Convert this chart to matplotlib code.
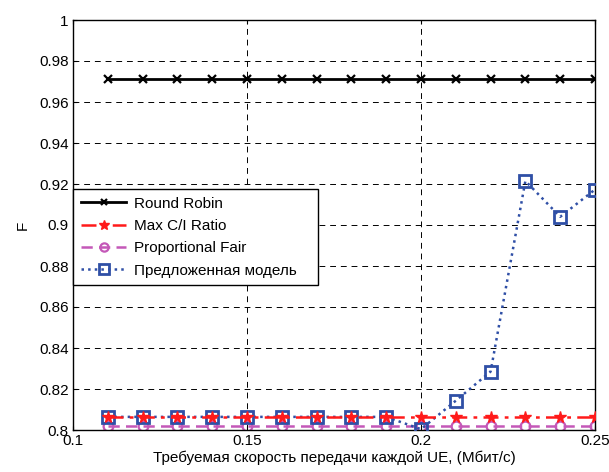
import matplotlib
matplotlib.use("Agg")
import matplotlib.pyplot as plt

plt.rcParams['font.family'] = ['Liberation Sans', 'DejaVu Sans']

# Daten
rate = [0.11, 0.12, 0.13, 0.14, 0.15, 0.16, 0.17, 0.18, 0.19, 0.20,
        0.21, 0.22, 0.23, 0.24, 0.25]
round_robin = [0.9712] * 15
max_ci = [0.8064] * 15
prop_fair = [0.8021] * 15
proposed = [0.8064, 0.8064, 0.8064, 0.8064, 0.8064, 0.8064, 0.8064, 0.8064,
            0.8064, 0.8004, 0.8143, 0.8285, 0.9215, 0.9040, 0.9173]

labels = ['Round Robin', 'Max C/I Ratio', 'Proportional Fair',
          'Предложенная модель']

x_ticks = [0.1, 0.15, 0.2, 0.25]
x_ticklabels = ['0.1', '0.15', '0.2', '0.25']
y_ticks = [0.8, 0.82, 0.84, 0.86, 0.88, 0.9, 0.92, 0.94, 0.96, 0.98, 1.0]
y_ticklabels = ['0.8', '0.82', '0.84', '0.86', '0.88', '0.9', '0.92',
                '0.94', '0.96', '0.98', '1']

fs = 11

fig = plt.figure(figsize=(6.09, 4.72), dpi=100)
ax = fig.add_axes([73 / 609, 42 / 472, 522 / 609, 410 / 472])

blue = '#2f4fa6'
magenta = '#c458b8'
red = '#ff1a1a'

ax.plot(rate, round_robin, '-', color='black', linewidth=2,
        marker='x', markersize=5.5, markeredgewidth=1.6, label=labels[0], zorder=4)
ax.plot(rate, proposed, ':', color=blue, linewidth=1.8,
        marker='s', markersize=8.5, markeredgewidth=2.0, markerfacecolor='none',
        label=labels[3], zorder=3)
ax.plot(rate, max_ci, linestyle=(0, (6, 2.5, 1.5, 2.5)), color=red, linewidth=1.8,
        marker='*', markersize=8.5, markeredgewidth=1.0, label=labels[1], zorder=5)
ax.plot(rate, prop_fair, linestyle=(0, (4.5, 2.5)), color=magenta, linewidth=1.8,
        marker='o', markersize=7, markeredgewidth=1.6, markerfacecolor='none',
        label=labels[2], zorder=2)

ax.set_xlim(0.1, 0.25)
ax.set_ylim(0.8, 1.0)
ax.set_xticks(x_ticks)
ax.set_xticklabels(x_ticklabels)
ax.set_yticks(y_ticks)
ax.set_yticklabels(y_ticklabels)
ax.tick_params(direction='in', labelsize=fs, length=3, width=0.8,
               top=True, right=True, pad=3)
ax.grid(True, color='black', linestyle=(0, (6, 5)), linewidth=0.7)
for s in ax.spines.values():
    s.set_linewidth(1.0)

ax.set_xlabel('Требуемая скорость передачи каждой UE, (Мбит/с)', fontsize=fs,
              labelpad=2)
ax.set_ylabel('F', fontsize=fs, labelpad=7)

h, l = ax.get_legend_handles_labels()
order = [0, 2, 3, 1]
leg = ax.legend([h[i] for i in order], [l[i] for i in order],
                loc='upper left', bbox_to_anchor=(0.0, 0.0, 0.469, 0.588),
                mode='expand', fontsize=fs, fancybox=False, framealpha=1,
                edgecolor='black', handlelength=3.0, labelspacing=0.55,
                borderpad=0.5, handletextpad=0.5, borderaxespad=0,
                markerscale=0.85)
leg.get_frame().set_linewidth(1.0)

fig.savefig('out.png', dpi=100)
